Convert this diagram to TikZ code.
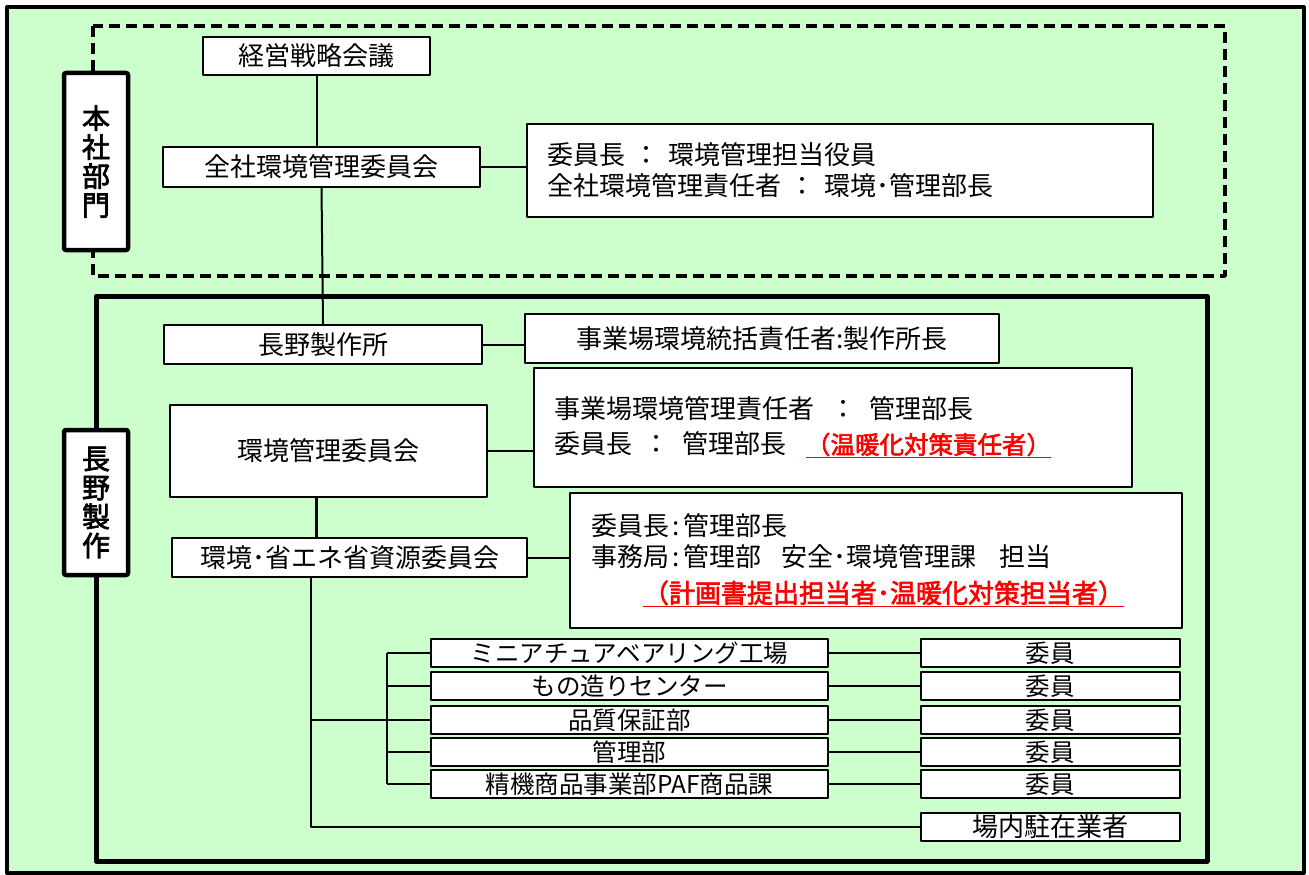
\documentclass[tikz,border=0pt]{standalone}
\usepackage{fontspec}
\setmainfont{Noto Sans CJK JP}[AutoFakeBold=2.5]
\definecolor{bggreen}{HTML}{CCFFCC}
\definecolor{markred}{HTML}{FF0000}
\newcommand{\mainsize}{\fontsize{26}{31}\selectfont}
\newcommand{\rowsize}{\fontsize{24.5}{28}\selectfont}
\newcommand{\redmark}[2][24.5]{\textcolor{markred}{\fontsize{#1}{31}\selectfont\bfseries\underline{#2}}}
\begin{document}
\begin{tikzpicture}[x=1pt,y=-1pt,line join=round,
	box/.style={draw,fill=white,line width=2,inner sep=0pt,align=center,font=\mainsize},
	infobox/.style={box,align=left},
	rowbox/.style={box,minimum height=28,font=\rowsize},
	unitlabel/.style={draw,fill=white,line width=4.5,rounded corners=2,inner sep=0pt,align=center,font=\fontsize{28}{29}\selectfont\bfseries},
	link/.style={line width=2}]
				\useasboundingbox (0,0) rectangle (1309,875);
				\fill[white] (0,0) rectangle (1309,875);
				\draw[line width=4,fill=bggreen] (7,7) rectangle (1303.5,873);
				\draw[line width=3.5,dash pattern=on 11 off 6] (93,26) rectangle (1225,276);
				\draw[line width=5] (96,296) rectangle (1207,861);
				\path (316.5,0) coordinate (trunk) (311,0) coordinate (stem) (387,0) coordinate (bus);
				% head office
				\node[unitlabel,minimum width=64,minimum height=177] (honsha) at (96,161.5) {本\\社\\部\\門};
				\node[box,minimum width=227,minimum height=38] (keiei) at (316.5,56) {経営戦略会議};
				\node[box,minimum width=317,minimum height=40] (zensha) at (321.5,167) {全社環境管理委員会};
				\node[infobox,minimum width=626,minimum height=93,text width=586] (chair) at (840,170.5)
					{委員長 ： 環境管理担当役員\\全社環境管理責任者 ： 環境･管理部長};
				% nagano works
				\node[unitlabel,minimum width=64,minimum height=145] (nagano) at (96,502.5) {長\\野\\製\\作};
				\node[box,minimum width=318,minimum height=39] (works) at (323,344.5) {長野製作所};
				\node[box,minimum width=474,minimum height=49] (sitehead) at (762,338.5) {事業場環境統括責任者:製作所長};
				\node[box,minimum width=317,minimum height=92] (committee) at (328.5,451) {環境管理委員会};
				\node[infobox,minimum width=598,minimum height=119,text width=558] (sitemgr) at (833,427.5)
					{事業場環境管理責任者\hspace{17pt}：\hspace{13pt}管理部長\\[4pt]
					委員長\hspace{11pt}：\hspace{14pt}管理部長\hspace{19pt}\redmark{（温暖化対策責任者）}};
				\node[box,minimum width=355,minimum height=39] (energy) at (349.5,557.5) {環境･省エネ省資源委員会};
				\node[infobox,minimum width=612,minimum height=135,text width=570] (office) at (876,560.5)
					{委員長\hspace{3.5pt}:\hspace{3.5pt}管理部長\\
					事務局\hspace{3.5pt}:\hspace{3.5pt}管理部\hspace{20pt}安全･環境管理課\hspace{23pt}担当\\[5pt]
					\hspace*{52pt}\redmark[26]{（計画書提出担当者･温暖化対策担当者）}};
				\foreach \n/\y/\t in {1/653/ミニアチュアベアリング工場,2/686/もの造りセンター,3/720/品質保証部,4/752/管理部,5/784/精機商品事業部PAF商品課}{
					\node[rowbox,minimum width=397] (dept\n) at (629.5,\y) {\t};
					\node[rowbox,minimum width=259] (member\n) at (1050,\y) {委員};
					\draw[link] (dept\n) -- (member\n);
					\draw[link] (bus |- dept\n) -- (dept\n);
				}
				\node[box,minimum width=259,minimum height=28] (resident) at (1050.5,827) {場内駐在業者};
				% connectors
				\draw[link] (keiei.south) -- (keiei.south |- zensha.north);
				\draw[link] (zensha.east) -- (zensha.east -| chair.west);
				\draw[link] (zensha.south) -- (works.north);
				\draw[link] (works.east) -- (works.east -| sitehead.west);
				\draw[link] (committee.east) -- (committee.east -| sitemgr.west);
				\draw[line width=3.5] (trunk |- committee.south) -- (trunk |- energy.north);
				\draw[link] (energy.east) -- (energy.east -| office.west);
				\draw[link] (stem |- energy.south) -- (stem |- resident) -- (resident);
				\draw[link] (stem |- dept3) -- (bus |- dept3);
				\draw[link] (bus |- dept1) -- (bus |- dept5);
	\end{tikzpicture}
\end{document}
